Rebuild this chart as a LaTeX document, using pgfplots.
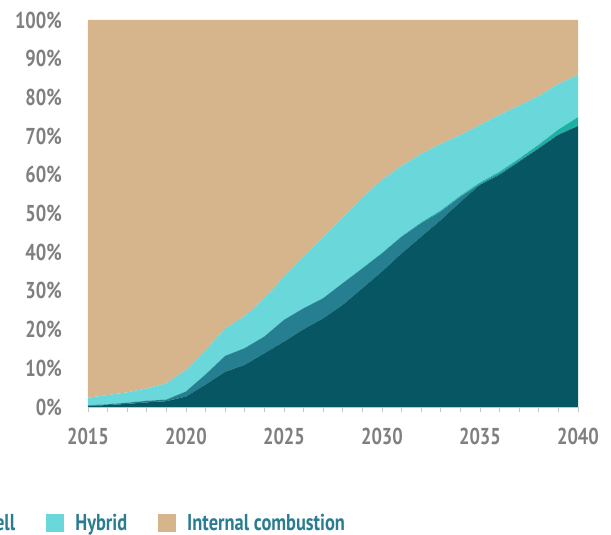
\documentclass[border=0pt]{standalone}
\usepackage{fontspec}
\setmainfont{PT Sans}[FakeStretch=0.8]
\usepackage{pgfplots}
\usepackage{pgfplotstable}
\pgfplotsset{compat=1.18}
\definecolor{bev}{HTML}{065763}
\definecolor{phev}{HTML}{267F91}
\definecolor{fcev}{HTML}{1AB3A3}
\definecolor{hyb}{HTML}{6AD7DA}
\definecolor{ice}{HTML}{D6B48C}
\definecolor{ticktext}{HTML}{7F7F7F}
\definecolor{legtext}{HTML}{2A7D90}

\pgfplotstableread{
year bev phev fc hy ice
2015 0.3 0.1 0.0 2.0 97.6
2016 0.5 0.2 0.0 2.4 96.9
2017 0.8 0.3 0.0 2.7 96.2
2018 1.2 0.4 0.0 3.2 95.2
2019 1.5 0.4 0.0 4.2 93.9
2020 2.7 1.3 0.0 5.6 90.4
2021 5.8 2.6 0.0 6.3 85.3
2022 9.1 4.1 0.0 7.1 79.7
2023 10.9 4.3 0.0 8.3 76.5
2024 13.9 4.3 0.0 9.9 71.9
2025 16.9 5.6 0.0 11.2 66.3
2026 20.1 5.4 0.0 13.3 61.2
2027 22.9 5.2 0.0 15.9 56.0
2028 26.4 5.6 0.0 17.0 51.0
2029 30.7 5.1 0.1 18.3 45.8
2030 35.0 4.7 0.1 18.9 41.3
2031 39.7 4.3 0.1 18.2 37.7
2032 44.0 3.5 0.2 17.7 34.6
2033 48.3 2.2 0.3 17.2 32.0
2034 53.0 1.3 0.3 15.7 29.7
2035 57.4 0.2 0.4 14.9 27.1
2036 60.0 0.3 0.5 14.7 24.5
2037 63.4 0.2 0.6 13.7 22.1
2038 66.8 0.2 0.8 12.6 19.6
2039 70.3 0.2 1.2 11.8 16.5
2040 72.6 0.1 2.2 10.9 14.2
}\shares

\begin{document}
\begin{tikzpicture}
\useasboundingbox (0bp,0bp) rectangle (611bp,535bp);
\begin{scope}
\clip (0bp,0bp) rectangle (611bp,535bp);
\begin{axis}[
  at={(88bp,128bp)}, anchor=south west,
  scale only axis, width=490bp, height=387bp,
  xmin=2015, xmax=2040, ymin=0, ymax=100,
  stack plots=y,
  axis on top,
  axis x line*=bottom, axis y line*=left,
  x axis line style={draw=gray!45, line width=0.8bp},
  y axis line style={draw=none},
  xtick={2015,2020,...,2040},
  minor x tick num=4,
  ytick={0,10,...,100},
  ytick style={draw=none},
  xtick style={draw=gray!45, line width=0.6bp},
  minor x tick style={draw=gray!45, line width=0.6bp},
  tick align=outside,
  major tick length=5bp, minor tick length=5bp,
  /pgf/number format/assume math mode=true,
  xticklabel={\pgfmathprintnumber[1000 sep={}]{\tick}},
  yticklabel={\pgfmathprintnumber{\tick}\%},
  tick label style={font=\fontsize{23bp}{26bp}\selectfont\bfseries, text=ticktext},
  xticklabel style={anchor=north, inner sep=0pt, yshift=-16bp},
  yticklabel style={anchor=east, inner sep=0pt, xshift=-21bp},
  legend columns=5,
  legend style={at={(0.529,-0.2997)}, anchor=east, draw=none, fill=none, inner sep=0pt,
    font=\fontsize{23bp}{26bp}\selectfont\bfseries, text=legtext,
    /tikz/every odd column/.append style={column sep=9bp},
    /tikz/every even column/.append style={column sep=29bp}},
  legend image code/.code={\fill[#1] (0bp,-9bp) rectangle (18bp,9bp);},
]
\addplot[fill=bev, draw=none] table[x=year,y=bev]{\shares} \closedcycle;
\addlegendentry{Battery electric}
\addplot[fill=phev, draw=none] table[x=year,y=phev]{\shares} \closedcycle;
\addlegendentry{Plug-in hybrid}
\addplot[fill=fcev, draw=none] table[x=year,y=fc]{\shares} \closedcycle;
\addlegendentry{Fuel cell}
\addplot[fill=hyb, draw=none] table[x=year,y=hy]{\shares} \closedcycle;
\addlegendentry{Hybrid}
\addplot[fill=ice, draw=none] table[x=year,y=ice]{\shares} \closedcycle;
\addlegendentry{Internal combustion}
\end{axis}
\end{scope}
\end{tikzpicture}
\end{document}
